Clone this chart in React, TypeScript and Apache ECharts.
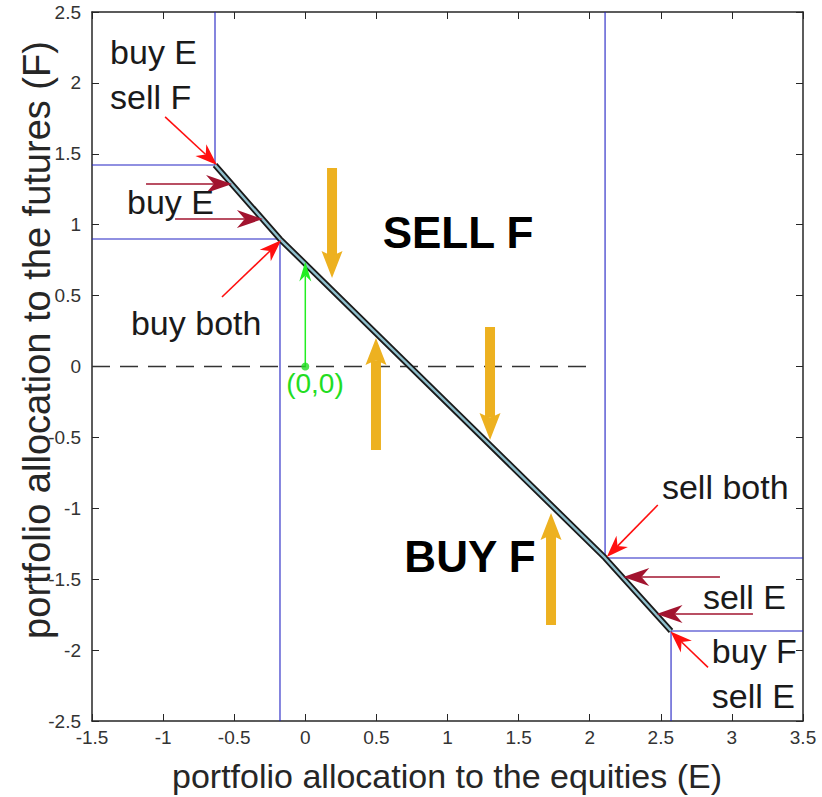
import React, { useEffect, useRef } from "react";
import * as echarts from "echarts";

// Axis ranges and ticks
const X_MIN = -1.5;
const X_MAX = 3.5;
const Y_MIN = -2.5;
const Y_MAX = 2.5;
const TICK_STEP = 0.5;

// No-trade region boundaries (blue)
const blueUpperLeft = [[-0.635, 2.5], [-0.635, 1.421], [-1.5, 1.421]];
const blueLowerLeft = [[-1.5, 0.899], [-0.178, 0.899], [-0.178, -2.5]];
const blueUpperRight = [[2.108, 2.5], [2.108, -1.35], [3.5, -1.35]];
const blueLowerRight = [[3.5, -1.865], [2.572, -1.865], [2.572, -2.5]];

// No-trade line (diagonal)
const noTradeLine = [[-0.635, 1.421], [-0.178, 0.899], [2.108, -1.35], [2.572, -1.865]];

// Dashed zero line
const zeroLine = [[-1.5, 0], [1.99, 0]];

// Arrows: [x1, y1, x2(tip), y2(tip)]
const orangeArrows = [
  [0.188, 1.40, 0.188, 0.624],
  [0.497, -0.589, 0.497, 0.201],
  [1.299, 0.278, 1.299, -0.518],
  [1.728, -1.823, 1.728, -1.033],
];
const redArrows = [
  [-0.986, 1.76, -0.621, 1.421],
  [-0.586, 0.49, -0.17, 0.89],
  [2.479, -0.977, 2.12, -1.344],
  [2.832, -2.122, 2.568, -1.868],
];
const darkRedArrows = [
  [-1.12, 1.287, -0.515, 1.287],
  [-0.916, 1.04, -0.298, 1.04],
  [2.916, -1.484, 2.236, -1.484],
  [3.148, -1.745, 2.47, -1.745],
];
const greenArrows = [[0, 0, 0, 0.74]];
const originPoint = [[0, 0]];

// Annotation texts
const regularTexts = ["buy E", "sell F", "buy E", "buy both", "sell both", "sell E", "buy F", "sell E"];
const regularTextPos = [
  [-1.373, 2.217],
  [-1.373, 1.904],
  [-1.254, 1.16],
  [-1.226, 0.307],
  [2.508, -0.85],
  [2.796, -1.626],
  [2.859, -2.006],
  [2.859, -2.323],
];
const boldTexts = ["SELL F", "BUY F"];
const boldTextPos = [
  [1.074, 0.945],
  [1.158, -1.343],
];
const originText = ["(0,0)"];
const originTextPos = [[0.068, -0.123]];

const FONT = "'Liberation Sans', Arial, Helvetica, sans-serif";

function arrowRenderer(color: string, lw: number, L: number, W: number, notch: number) {
  return (params: any, api: any) => {
    const a = api.coord([api.value(0), api.value(1)]);
    const b = api.coord([api.value(2), api.value(3)]);
    const dx = b[0] - a[0];
    const dy = b[1] - a[1];
    const len = Math.hypot(dx, dy) || 1;
    const ux = dx / len;
    const uy = dy / len;
    const nx = -uy;
    const ny = ux;
    const bx = b[0] - ux * L;
    const by = b[1] - uy * L;
    const kx = b[0] - ux * L * notch;
    const ky = b[1] - uy * L * notch;
    return {
      type: "group",
      children: [
        {
          type: "line",
          shape: { x1: a[0], y1: a[1], x2: kx, y2: ky },
          style: { stroke: color, lineWidth: lw, lineCap: "butt" },
        },
        {
          type: "polygon",
          shape: {
            points: [
              [b[0], b[1]],
              [bx + (nx * W) / 2, by + (ny * W) / 2],
              [kx, ky],
              [bx - (nx * W) / 2, by - (ny * W) / 2],
            ],
          },
          style: { fill: color },
        },
      ],
    };
  };
}

function textRenderer(texts: string[], size: number, weight: string, color: string, align: string) {
  return (params: any, api: any) => {
    const p = api.coord([api.value(0), api.value(1)]);
    return {
      type: "text",
      x: p[0],
      y: p[1],
      style: {
        text: texts[params.dataIndex],
        fontSize: size,
        fontWeight: weight,
        fontFamily: FONT,
        fill: color,
        align: align,
        textAlign: align,
        verticalAlign: "middle",
        textVerticalAlign: "middle",
      },
    };
  };
}

function lineSeries(data: number[][], color: string, width: number, type: any = "solid", z = 2) {
  return {
    type: "line",
    data,
    showSymbol: false,
    symbol: "none",
    lineStyle: { color, width, type },
    silent: true,
    z,
  };
}

export default function App() {
  const ref = useRef<HTMLDivElement>(null);

  useEffect(() => {
    if (!ref.current) return;
    const chart = echarts.init(ref.current, null, { renderer: "svg" });
    const axisCommon = {
      type: "value",
      interval: TICK_STEP,
      splitLine: { show: false },
      axisLine: { show: true, onZero: false, lineStyle: { color: "#262626", width: 1.5 } },
      axisTick: { show: true, inside: true, length: 7, lineStyle: { color: "#262626", width: 1 } },
    };
    const labelCommon = { color: "#333333", fontSize: 19, fontFamily: FONT };
    const option: any = {
      animation: false,
      backgroundColor: "#ffffff",
      grid: { left: 92, right: 19, top: 12, bottom: 76, containLabel: false },
      xAxis: [
        { ...axisCommon, min: X_MIN, max: X_MAX, position: "bottom", axisLabel: { ...labelCommon, margin: 7 } },
        { ...axisCommon, min: X_MIN, max: X_MAX, position: "top", axisLabel: { show: false } },
      ],
      yAxis: [
        { ...axisCommon, min: Y_MIN, max: Y_MAX, position: "left", axisLabel: { ...labelCommon, margin: 11 } },
        { ...axisCommon, min: Y_MIN, max: Y_MAX, position: "right", axisLabel: { show: false } },
      ],
      graphic: [
        {
          type: "text",
          x: 447,
          y: 776,
          style: {
            text: "portfolio allocation to the equities (E)",
            fontSize: 34,
            fontFamily: FONT,
            fill: "#262626",
            align: "center",
            textAlign: "center",
            verticalAlign: "middle",
            textVerticalAlign: "middle",
          },
        },
        {
          type: "text",
          x: 37,
          y: 340,
          rotation: Math.PI / 2,
          style: {
            text: "portfolio allocation to the futures (F)",
            fontSize: 38,
            fontFamily: FONT,
            fill: "#262626",
            align: "center",
            textAlign: "center",
            verticalAlign: "middle",
            textVerticalAlign: "middle",
          },
        },
      ],
      series: [
        lineSeries(blueUpperLeft, "#2222c4", 1.1),
        lineSeries(blueLowerLeft, "#2222c4", 1.1),
        lineSeries(blueUpperRight, "#2222c4", 1.1),
        lineSeries(blueLowerRight, "#2222c4", 1.1),
        lineSeries(zeroLine, "#333333", 1.6, [18, 10]),
        lineSeries(noTradeLine, "#1a1a1a", 6, "solid", 3),
        lineSeries(noTradeLine, "#8fbfcc", 2.4, "solid", 4),
        {
          type: "custom",
          renderItem: arrowRenderer("#EDB120", 10, 27, 21, 0.82),
          data: orangeArrows,
          z: 5,
          silent: true,
        },
        {
          type: "custom",
          renderItem: arrowRenderer("#ff1010", 1.6, 22, 16, 0.7),
          data: redArrows,
          z: 6,
          silent: true,
        },
        {
          type: "custom",
          renderItem: arrowRenderer("#a2142f", 1.6, 26, 18, 0.7),
          data: darkRedArrows,
          z: 6,
          silent: true,
        },
        {
          type: "custom",
          renderItem: arrowRenderer("#22ee22", 1.5, 20, 12, 0.7),
          data: greenArrows,
          z: 6,
          silent: true,
        },
        {
          type: "scatter",
          data: originPoint,
          symbol: "circle",
          symbolSize: 8,
          itemStyle: { color: "#22dd22" },
          z: 7,
          silent: true,
        },
        {
          type: "custom",
          renderItem: textRenderer(regularTexts, 34, "normal", "#1a1a1a", "left"),
          data: regularTextPos,
          z: 8,
          silent: true,
        },
        {
          type: "custom",
          renderItem: textRenderer(boldTexts, 44, "bold", "#000000", "center"),
          data: boldTextPos,
          z: 8,
          silent: true,
        },
        {
          type: "custom",
          renderItem: textRenderer(originText, 28, "normal", "#22dd22", "center"),
          data: originTextPos,
          z: 8,
          silent: true,
        },
      ],
    };
    chart.setOption(option);
    return () => chart.dispose();
  }, []);

  return (
    <div
      ref={ref}
      style={{ position: "fixed", left: 0, top: 0, width: 822, height: 797, background: "#fff" }}
    />
  );
}
